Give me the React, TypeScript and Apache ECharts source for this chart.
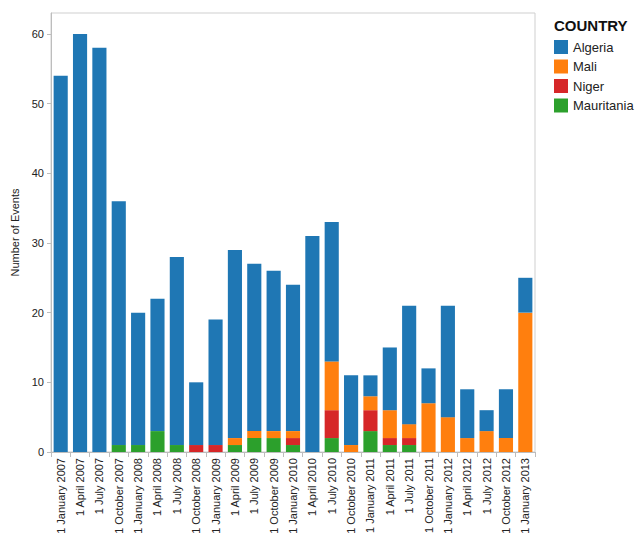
import { useEffect, useRef } from 'react';
import * as echarts from 'echarts';

const quarters = [
  '1 January 2007', '1 April 2007', '1 July 2007', '1 October 2007',
  '1 January 2008', '1 April 2008', '1 July 2008', '1 October 2008',
  '1 January 2009', '1 April 2009', '1 July 2009', '1 October 2009',
  '1 January 2010', '1 April 2010', '1 July 2010', '1 October 2010',
  '1 January 2011', '1 April 2011', '1 July 2011', '1 October 2011',
  '1 January 2012', '1 April 2012', '1 July 2012', '1 October 2012',
  '1 January 2013',
];

const algeria = [54, 60, 58, 35, 19, 19, 27, 9, 18, 27, 24, 23, 21, 31, 20, 10, 3, 9, 17, 5, 16, 7, 3, 7, 5];
const mali = [0, 0, 0, 0, 0, 0, 0, 0, 0, 1, 1, 1, 1, 0, 7, 1, 2, 4, 2, 7, 5, 2, 3, 2, 20];
const niger = [0, 0, 0, 0, 0, 0, 0, 1, 1, 0, 0, 0, 1, 0, 4, 0, 3, 1, 1, 0, 0, 0, 0, 0, 0];
const mauritania = [0, 0, 0, 1, 1, 3, 1, 0, 0, 1, 2, 2, 1, 0, 2, 0, 3, 1, 1, 0, 0, 0, 0, 0, 0];

const yTicks = [0, 10, 20, 30, 40, 50, 60];

const colors: Record<string, string> = {
  Algeria: '#1f77b4',
  Mali: '#ff7f0e',
  Niger: '#d62728',
  Mauritania: '#2ca02c',
};

const font = '"Liberation Sans", Arial, sans-serif';

const App = () => {
  const chartRef = useRef<HTMLDivElement>(null);

  useEffect(() => {
    if (!chartRef.current) return;
    document.body.style.margin = '0';

    const chart = echarts.init(chartRef.current, null, { renderer: 'svg' });

    // stacked bottom to top: Mauritania, Niger, Mali, Algeria
    const stackOrder: [string, number[]][] = [
      ['Mauritania', mauritania],
      ['Niger', niger],
      ['Mali', mali],
      ['Algeria', algeria],
    ];

    chart.setOption({
      animation: false,
      textStyle: { fontFamily: font },
      title: {
        text: 'COUNTRY',
        left: 549,
        top: 13,
        textStyle: { fontSize: 15, fontWeight: 'bold', color: '#111', fontFamily: font },
      },
      legend: {
        data: ['Algeria', 'Mali', 'Niger', 'Mauritania'],
        orient: 'vertical',
        left: 549,
        top: 35,
        icon: 'rect',
        itemWidth: 14,
        itemHeight: 14,
        itemGap: 5.5,
        selectedMode: false,
        textStyle: { fontSize: 13, color: '#222', fontFamily: font },
      },
      grid: {
        left: 51,
        right: 105,
        top: 13,
        bottom: 91,
        show: true,
        borderColor: '#cfcfcf',
        borderWidth: 1,
      },
      xAxis: {
        type: 'category',
        data: quarters,
        axisLine: { lineStyle: { color: '#bdbdbd' } },
        axisTick: { show: true, length: 5, lineStyle: { color: '#bdbdbd' } },
        axisLabel: {
          rotate: 90,
          interval: 0,
          fontSize: 11,
          color: '#222',
          margin: 6,
          fontFamily: font,
        },
      },
      yAxis: {
        type: 'value',
        min: 0,
        max: 63,
        interval: 10,
        name: 'Number of Events',
        nameLocation: 'middle',
        nameGap: 28,
        nameTextStyle: { fontSize: 11, color: '#222', fontFamily: font },
        splitLine: { show: false },
        axisLine: { show: true, lineStyle: { color: '#bdbdbd' } },
        axisTick: { show: true, length: 4, lineStyle: { color: '#bdbdbd' }, customValues: yTicks },
        axisLabel: { fontSize: 11, color: '#222', margin: 7, customValues: yTicks, fontFamily: font },
      },
      series: stackOrder.map(([name, data]) => ({
        name,
        type: 'bar',
        stack: 'events',
        data,
        barCategoryGap: '27%',
        itemStyle: { color: colors[name] },
      })),
    });

    return () => {
      chart.dispose();
    };
  }, []);

  return <div ref={chartRef} style={{ width: 640, height: 543 }} />;
};

export default App;
